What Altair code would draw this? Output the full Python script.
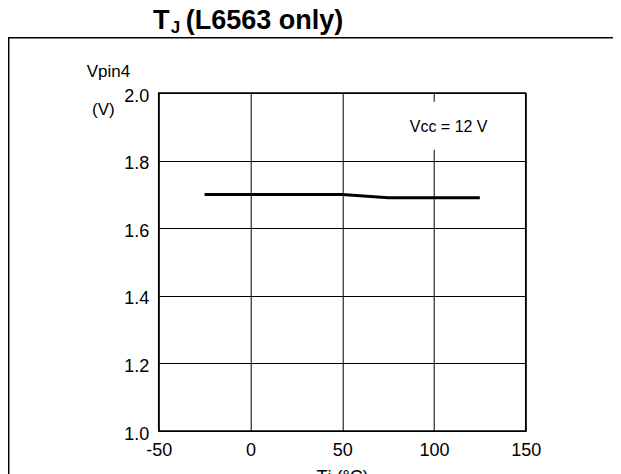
import altair as alt
import pandas as pd

# ---- data ----
temps = [-25, 0, 25, 50, 75, 100, 125]
vpin4 = [1.70, 1.70, 1.70, 1.70, 1.69, 1.69, 1.69]
x_ticks = [-50, 0, 50, 100, 150]
y_ticks = [1.0, 1.2, 1.4, 1.6, 1.8, 2.0]
note_text = "Vcc = 12 V"
note_x = 108
note_y = 1.898
title_main = "T"
title_sub = "J"
title_rest = "(L6563 only)"
y_title_top = "Vpin4"
y_title_unit = "(V)"
x_title = "Tj (°C)"

W, H = 367, 338
FONT = "Liberation Sans"

df = pd.DataFrame({"t": temps, "v": vpin4})

xs = alt.Scale(domain=[-50, 150], nice=False, zero=False)
ys = alt.Scale(domain=[1.0, 2.0], nice=False, zero=False)

x_axis = alt.Axis(values=x_ticks, title=x_title, labelFontSize=18, titleFontSize=18,
                  ticks=False, domain=False, labelPadding=10, grid=True,
                  labelColor="black", titleColor="black", titleFontWeight="normal",
                  titlePadding=9, labelFlush=False, labelExpr="datum.value + ''")
y_axis = alt.Axis(values=y_ticks, format=".1f", title=None, labelFontSize=18,
                  ticks=False, domain=False, labelPadding=10, labelOffset=3,
                  grid=True, labelColor="black", labelFlush=False)

line = alt.Chart(df).mark_line(color="black", strokeWidth=3).encode(
    x=alt.X("t:Q", scale=xs, axis=x_axis),
    y=alt.Y("v:Q", scale=ys, axis=y_axis),
)

one = alt.Data(values=[{}])

note_box = alt.Chart(one).mark_rect(fill="white", stroke=None).encode(
    x=alt.XDatum(84, type="quantitative", scale=xs, axis=x_axis),
    x2=alt.X2Datum(132),
    y=alt.YDatum(1.974, type="quantitative", scale=ys, axis=y_axis),
    y2=alt.Y2Datum(1.832),
)

note = alt.Chart(one).mark_text(fontSize=16, font=FONT, color="black",
                                align="center", baseline="middle").encode(
    x=alt.XDatum(note_x, type="quantitative", scale=xs, axis=x_axis),
    y=alt.YDatum(note_y, type="quantitative", scale=ys, axis=y_axis),
    text=alt.value(note_text),
)

def label(txt, x, y, size, weight="normal"):
    return alt.Chart(one).mark_text(fontSize=size, font=FONT, fontWeight=weight,
                                    color="black", align="left",
                                    baseline="alphabetic").encode(
        x=alt.value(x), y=alt.value(y), text=alt.value(txt))

t1 = label(title_main, -5.7, -64, 27, "bold")
t2 = label(title_sub, 12.0, -60.5, 17, "bold")
t3 = label(title_rest, 27.0, -64, 27, "bold")
yl1 = label(y_title_top, -72, -16.3, 17)
yl2 = label(y_title_unit, -66.7, 21.5, 17)

frame_h = alt.Chart(one).mark_rule(color="black", strokeWidth=1.5).encode(
    x=alt.value(-151), x2=alt.value(470), y=alt.value(-55.3))
frame_v = alt.Chart(one).mark_rule(color="black", strokeWidth=1.5).encode(
    x=alt.value(-150), y=alt.value(-55.3), y2=alt.value(H + 60))

chart = alt.layer(
    line, note_box, note, t1, t2, t3, yl1, yl2, frame_h, frame_v
).properties(
    width=W, height=H,
    autosize=alt.AutoSizeParams(type="none"),
    padding={"left": 150.7, "top": 85, "right": 87.3, "bottom": 50},
    background="white",
).configure(font=FONT).configure_view(
    stroke="black", strokeWidth=1.5
).configure_axis(
    gridColor="black", gridWidth=1, gridOpacity=1,
    labelFont=FONT, titleFont=FONT,
)

chart.save("out.html", embed_options={"renderer": "svg", "actions": False})
